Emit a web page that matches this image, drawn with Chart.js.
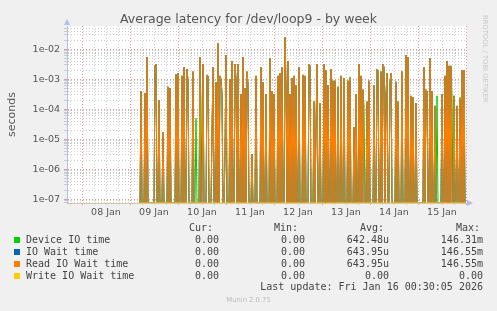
<!DOCTYPE html>
<html>
<head>
<meta charset="utf-8">
<script src="https://cdn.jsdelivr.net/npm/chart.js@4.4.1/dist/chart.umd.min.js"></script>
<style>
body { margin: 0; background: #f0f0f0; }
#wrap { position: relative; width: 497px; height: 311px; overflow: hidden; font-family: 'DejaVu Sans', sans-serif; color: #444; }
#chart { position: absolute; left: 0; top: 0; }
.t { position: absolute; white-space: pre; line-height: 12px; height: 12px; }
.mono { font-family: 'DejaVu Sans Mono', monospace; font-size: 10px; }
.sq { position: absolute; width: 6px; height: 6px; }
</style>
</head>
<body>
<div id="wrap">
  <canvas id="chart" width="497" height="311"></canvas>
</div>
<script>
// time axis is in hours since 08 Jan 00:00, samples every 30 minutes
const START_HOUR = 29;
const STEP_HOURS = 0.5;
const X_MIN = -7.5;
const X_MAX = 192;
const Y_MIN = 7.53e-8;
const Y_MAX = 0.0598;

const dayLabels = ['08 Jan', '09 Jan', '10 Jan', '11 Jan', '12 Jan', '13 Jan', '14 Jan', '15 Jan'];
const yTickValues = [1e-7, 1e-6, 1e-5, 1e-4, 1e-3, 1e-2];
const yTickLabels = ['1e-07', '1e-06', '1e-05', '1e-04', '1e-03', '1e-02'];

// seconds (0 = nothing)
const readWaitValues = [
    0, 4.0e-4, 0, 0, 0, 3.5e-4, 0, 5.4e-3, 0, 0, 0, 0,
    0, 0, 0, 2.8e-3, 3.2e-3, 0, 0, 2.0e-4, 0, 0, 0, 1.7e-5,
    0, 0, 0, 0, 5.6e-4, 0, 5.0e-4, 0, 0, 0, 0, 0,
    1.4e-3, 0, 1.6e-3, 0, 0, 0, 1.3e-3, 0, 2.5e-3, 0, 0, 2.2e-3,
    8.9e-4, 0, 0, 0, 0, 1.8e-3, 0, 0, 0, 0, 0, 0,
    5.4e-3, 0, 0, 3.2e-3, 0, 0, 0, 1.4e-3, 1.3e-3, 0, 0, 0,
    1.7e-5, 2.5e-3, 0, 0, 7.9e-4, 0, 1.6e-2, 0, 1.3e-3, 1.0e-3, 3.2e-4, 0,
    0, 2.8e-6, 6.3e-3, 0, 0, 0, 1.0e-3, 0, 4.0e-3, 0, 0, 3.2e-3,
    1.0e-3, 0, 3.2e-3, 0, 0, 3.2e-4, 0, 5.4e-3, 0, 5.0e-4, 0, 1.8e-3,
    6.3e-4, 0, 0, 0, 3.2e-6, 0, 0, 0, 1.3e-3, 0, 0, 0,
    0, 2.5e-3, 0, 7.9e-4, 0, 0, 3.2e-4, 0, 0, 0, 5.0e-3, 0,
    4.0e-4, 0, 3.2e-4, 0, 0, 0, 1.3e-3, 0, 1.6e-3, 0, 2.5e-3, 0,
    0, 2.5e-2, 5.0e-4, 0, 4.0e-3, 0, 3.2e-4, 0, 1.1e-3, 0, 1.3e-3, 0,
    6.3e-4, 0, 0, 2.5e-3, 0, 0, 0, 1.4e-3, 0, 1.3e-3, 0, 0,
    0, 3.2e-3, 2.8e-3, 0, 0, 0, 1.8e-4, 0, 2.5e-5, 3.2e-3, 0, 0,
    1.6e-4, 0, 0, 0, 3.2e-3, 0, 2.0e-3, 0, 6.3e-4, 0, 0, 2.2e-3,
    0, 8.9e-4, 0, 8.9e-4, 0, 0, 5.6e-4, 0, 0, 1.3e-3, 0, 0,
    1.1e-3, 0, 0, 0, 8.9e-4, 0, 1.1e-3, 0, 0, 0, 2.5e-5, 0,
    3.2e-4, 0, 0, 3.2e-3, 0, 1.3e-3, 0, 4.5e-4, 0, 0, 0, 1.8e-4,
    0, 8.9e-4, 0, 0, 0, 0, 6.3e-4, 0, 0, 2.2e-3, 2.0e-3, 0,
    0, 1.8e-3, 0, 3.2e-3, 2.5e-3, 0, 3.2e-4, 1.6e-3, 0, 0, 7.9e-4, 1.6e-3,
    0, 0, 0, 0, 7.9e-4, 0, 1.8e-4, 0, 0, 0, 1.8e-3, 0,
    0, 0, 6.3e-3, 0, 5.4e-3, 0, 0, 2.8e-4, 0, 2.5e-4, 0, 0,
    1.6e-4, 0, 0, 0, 0, 0, 0, 0, 2.5e-3, 0, 4.5e-4, 4.0e-4,
    0, 0, 5.0e-3, 0, 4.0e-4, 0, 0, 1.3e-4, 0, 0, 0, 0,
    0, 0, 3.2e-4, 0, 0, 1.3e-3, 0, 4.0e-3, 0, 2.8e-3, 0, 2.8e-3,
    0, 0, 2.8e-4, 0, 0, 1.3e-4, 0, 0, 2.2e-4, 0, 2.0e-3, 0,
    2.0e-3, 0, 0
];

const deviceValues = [
    0, 4.0e-4, 0, 0, 0, 3.5e-4, 0, 5.4e-3, 0, 0, 0, 0,
    0, 0, 0, 2.8e-3, 3.2e-3, 0, 0, 2.0e-4, 0, 0, 0, 1.7e-5,
    0, 0, 0, 0, 5.6e-4, 0, 5.0e-4, 0, 0, 0, 0, 0,
    1.5e-3, 0, 1.6e-3, 0, 0, 0, 1.3e-3, 0, 2.5e-3, 0, 0, 2.2e-3,
    8.9e-4, 0, 0, 0, 0, 1.8e-3, 0, 0, 5.0e-5, 0, 0, 0,
    5.4e-3, 0, 2.0e-4, 3.2e-3, 0, 0, 0, 1.4e-3, 1.3e-3, 0, 0, 0,
    1.7e-5, 2.5e-3, 0, 0, 7.9e-4, 0, 1.6e-2, 0, 1.3e-3, 1.0e-3, 3.5e-4, 0,
    0, 2.8e-6, 6.3e-3, 0, 0, 0, 1.0e-3, 0, 4.0e-3, 0, 0, 3.2e-3,
    1.0e-3, 0, 3.2e-3, 0, 0, 3.2e-4, 0, 5.4e-3, 0, 5.0e-4, 0, 1.8e-3,
    6.3e-4, 0, 0, 0, 3.2e-6, 0, 0, 0, 1.3e-3, 0, 0, 0,
    0, 2.5e-3, 0, 7.9e-4, 0, 0, 3.2e-4, 0, 0, 0, 5.0e-3, 0,
    4.0e-4, 0, 3.2e-4, 0, 0, 0, 1.3e-3, 0, 1.6e-3, 0, 2.5e-3, 0,
    0, 2.5e-2, 5.0e-4, 0, 4.0e-3, 0, 3.2e-4, 0, 1.1e-3, 0, 1.3e-3, 0,
    6.3e-4, 0, 0, 2.5e-3, 0, 0, 0, 1.4e-3, 0, 1.3e-3, 0, 0,
    0, 3.2e-3, 2.8e-3, 0, 0, 0, 1.8e-4, 0, 2.5e-5, 3.2e-3, 0, 0,
    1.6e-4, 0, 0, 0, 3.2e-3, 0, 2.0e-3, 0, 6.3e-4, 0, 0, 2.2e-3,
    0, 8.9e-4, 0, 8.9e-4, 0, 0, 5.6e-4, 0, 0, 1.3e-3, 0, 0,
    1.1e-3, 0, 0, 0, 8.9e-4, 0, 1.2e-3, 0, 0, 0, 2.5e-5, 0,
    3.2e-4, 0, 0, 3.2e-3, 0, 1.3e-3, 0, 4.5e-4, 1.3e-4, 0, 0, 1.8e-4,
    0, 8.9e-4, 0, 0, 0, 0, 6.3e-4, 0, 0, 2.2e-3, 2.0e-3, 0,
    0, 1.8e-3, 0, 3.2e-3, 2.5e-3, 0, 3.2e-4, 1.6e-3, 0, 0, 7.9e-4, 1.6e-3,
    0, 0, 0, 0, 8.5e-4, 0, 1.8e-4, 0, 0, 0, 1.8e-3, 0,
    0, 0, 6.3e-3, 0, 5.4e-3, 0, 0, 2.8e-4, 0, 2.5e-4, 0, 0,
    1.6e-4, 0, 0, 0, 0, 0, 0, 0, 2.5e-3, 0, 4.5e-4, 4.0e-4,
    0, 0, 5.0e-3, 0, 4.0e-4, 0, 0, 1.3e-4, 0, 2.8e-4, 0, 0,
    0, 0, 3.2e-4, 0, 0, 1.3e-3, 0, 4.0e-3, 0, 2.8e-3, 0, 2.8e-3,
    2.5e-4, 0, 2.8e-4, 0, 0, 1.3e-4, 0, 0, 2.5e-4, 0, 2.0e-3, 0,
    2.0e-3, 0, 0
];

// IO wait and read IO wait are the same series in the source (same avg/max)
const ioWaitValues = readWaitValues;
const writeWaitValues = readWaitValues.map(() => 0);

const seriesNames = ['Device IO time', 'IO Wait time', 'Read IO Wait time', 'Write IO Wait time'];
const seriesColors = ['#00cc00', '#0066b3', '#ff8000', '#ffcc00'];
const curValues = ['0.00', '0.00', '0.00', '0.00'];
const minValues = ['0.00', '0.00', '0.00', '0.00'];
const avgValues = ['642.48u', '643.95u', '643.95u', '0.00'];
const maxValues = ['146.31m', '146.55m', '146.55m', '0.00'];
const lastUpdate = 'Last update: Fri Jan 16 00:30:05 2026';

function toPoints(values) {
    return values.map((v, i) => ({ x: START_HOUR + i * STEP_HOURS, y: v > 0 ? v : Y_MIN }));
}

function isDecade(v) {
    const l = Math.log10(v);
    return Math.abs(l - Math.round(l)) < 1e-6;
}

const wrap = document.getElementById('wrap');
function addText(txt, opts) {
    const d = document.createElement('div');
    d.className = 't' + (opts.mono ? ' mono' : '');
    d.textContent = txt;
    if (opts.left !== undefined) d.style.left = opts.left + 'px';
    if (opts.right !== undefined) d.style.right = (497 - opts.right) + 'px';
    d.style.top = (opts.cy - 6) + 'px';
    if (opts.size) d.style.fontSize = opts.size + 'px';
    if (opts.color) d.style.color = opts.color;
    if (opts.center) { d.style.left = '0'; d.style.width = '497px'; d.style.textAlign = 'center'; }
    wrap.appendChild(d);
    return d;
}

addText('Average latency for /dev/loop9 - by week', { center: true, cy: 19, size: 12.5, color: '#555' });
const side = addText('RRDTOOL / TOBI OETIKER', { left: 0, cy: 0, size: 6.8, color: '#c8c8c8' });
side.style.transformOrigin = '0 0';
side.style.transform = 'translate(491px, 15px) rotate(90deg)';
side.style.top = '0px';

// legend table
const rowY = [239.7, 251.5, 263.7, 275.7];
addText('Cur:', { right: 213, cy: 227.7, mono: true });
addText('Min:', { right: 298, cy: 227.7, mono: true });
addText('Avg:', { right: 384, cy: 227.7, mono: true });
addText('Max:', { right: 480, cy: 227.7, mono: true });
seriesNames.forEach((name, i) => {
    const sq = document.createElement('div');
    sq.className = 'sq';
    sq.style.left = '14px';
    sq.style.top = (rowY[i] - 3) + 'px';
    sq.style.background = seriesColors[i];
    wrap.appendChild(sq);
    addText(name, { left: 26, cy: rowY[i], mono: true });
    addText(curValues[i], { right: 219, cy: rowY[i], mono: true });
    addText(minValues[i], { right: 305, cy: rowY[i], mono: true });
    addText(avgValues[i], { right: 389, cy: rowY[i], mono: true });
    addText(maxValues[i], { right: 483, cy: rowY[i], mono: true });
});
addText(lastUpdate, { right: 483, cy: 287.3, mono: true });
addText('Munin 2.0.75', { center: true, cy: 300.3, size: 6.8, color: '#bbbbbb' });

const plotFrame = {
    id: 'plotFrame',
    beforeDraw(chart) {
        const { ctx, chartArea: a } = chart;
        ctx.save();
        ctx.fillStyle = '#ffffff';
        ctx.fillRect(a.left, a.top, a.right - a.left, a.bottom - a.top);
        ctx.restore();
    },
    afterDraw(chart) {
        const { ctx, chartArea: a } = chart;
        ctx.save();
        ctx.fillStyle = '#b4bcec';
        ctx.beginPath();
        ctx.moveTo(a.left - 3, a.top - 1);
        ctx.lineTo(a.left + 3, a.top - 1);
        ctx.lineTo(a.left, a.top - 7);
        ctx.closePath();
        ctx.fill();
        ctx.beginPath();
        ctx.moveTo(a.right + 1, a.bottom - 3);
        ctx.lineTo(a.right + 1, a.bottom + 3);
        ctx.lineTo(a.right + 7, a.bottom);
        ctx.closePath();
        ctx.fill();
        ctx.restore();
    }
};

const lineStyle = { borderWidth: 1, pointRadius: 0, tension: 0, fill: false };
const majorGrid = 'rgba(225,140,140,0.9)';
const minorGrid = 'rgba(200,200,200,0.9)';

new Chart(document.getElementById('chart'), {
    type: 'line',
    data: {
        datasets: [
            { label: seriesNames[3], data: toPoints(writeWaitValues), borderColor: seriesColors[3], order: 0, ...lineStyle },
            { label: seriesNames[2], data: toPoints(readWaitValues), borderColor: seriesColors[2], order: 1, ...lineStyle },
            { label: seriesNames[1], data: toPoints(ioWaitValues), borderColor: seriesColors[1], order: 2, ...lineStyle },
            { label: seriesNames[0], data: toPoints(deviceValues), borderColor: seriesColors[0], order: 3, ...lineStyle }
        ]
    },
    options: {
        responsive: false,
        animation: false,
        layout: { padding: { left: 0, right: 31, top: 26, bottom: 88 } },
        plugins: {
            legend: { display: false },
            title: { display: false },
            tooltip: { enabled: false }
        },
        scales: {
            x: {
                type: 'linear',
                min: X_MIN,
                max: X_MAX,
                afterBuildTicks: (scale) => {
                    const t = [];
                    for (let h = -6; h <= X_MAX; h += 6) t.push({ value: h });
                    scale.ticks = t;
                },
                afterFit: (scale) => { scale.height = 20; },
                grid: {
                    drawTicks: true,
                    tickLength: 2,
                    color: (ctx) => (ctx.tick && ctx.tick.value % 24 === 0) ? majorGrid : minorGrid
                },
                border: { display: true, color: '#d6c8a8', dash: [1, 2] },
                ticks: {
                    autoSkip: false,
                    maxRotation: 0,
                    padding: 2,
                    color: '#555',
                    font: { family: "'DejaVu Sans'", size: 9.5 },
                    callback: (value) => {
                        const k = (value - 12) / 24;
                        return Number.isInteger(k) && dayLabels[k] ? dayLabels[k] : '';
                    }
                }
            },
            y: {
                type: 'logarithmic',
                min: Y_MIN,
                max: Y_MAX,
                afterBuildTicks: (scale) => {
                    const t = [];
                    for (let e = -8; e <= -2; e++) {
                        for (let m = 1; m <= 9; m++) {
                            const v = m * Math.pow(10, e);
                            if (v >= Y_MIN && v <= Y_MAX) t.push({ value: v });
                        }
                    }
                    scale.ticks = t;
                },
                afterFit: (scale) => { scale.width = 67; },
                grid: {
                    drawTicks: true,
                    tickLength: 3,
                    color: (ctx) => (ctx.tick && isDecade(ctx.tick.value)) ? majorGrid : minorGrid
                },
                border: { display: true, color: '#b4bcec', dash: [1, 2] },
                title: {
                    display: true,
                    text: 'seconds',
                    color: '#555',
                    font: { family: "'DejaVu Sans'", size: 11 },
                    padding: { top: 6, bottom: 0 }
                },
                ticks: {
                    autoSkip: false,
                    padding: 4,
                    color: '#555',
                    font: { family: "'DejaVu Sans'", size: 9.5 },
                    callback: (value) => {
                        const i = yTickValues.findIndex(v => Math.abs(v - value) / v < 1e-6);
                        return i >= 0 ? yTickLabels[i] : '';
                    }
                }
            }
        }
    },
    plugins: [plotFrame]
});
</script>
</body>
</html>
